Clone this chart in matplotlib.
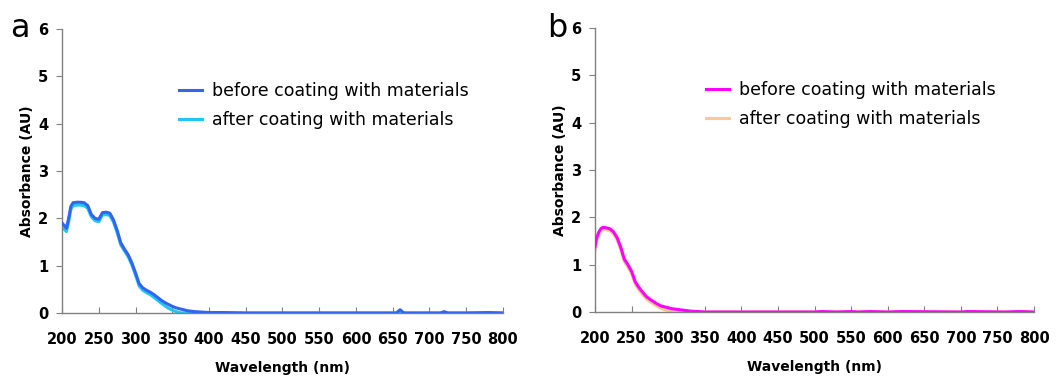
import matplotlib
matplotlib.use("Agg")
import matplotlib.pyplot as plt

# Panel a: absorbance spectra
wl_a = [200, 203, 206, 209, 212, 215, 220, 225, 230, 235, 240, 245, 250, 255, 260, 265,
        270, 275, 280, 285, 290, 295, 300, 305, 310, 315, 320, 325, 330, 335, 340, 345,
        350, 355, 360, 365, 370, 380, 390, 400, 420, 450, 500, 550, 600, 650, 655, 660,
        665, 670, 700, 715, 720, 725, 750, 780, 800]
before_a = [1.90, 1.85, 1.79, 2.00, 2.25, 2.33, 2.34, 2.34, 2.33, 2.27, 2.08, 2.00, 1.98, 2.12, 2.13, 2.11,
            1.97, 1.75, 1.48, 1.35, 1.23, 1.06, 0.85, 0.62, 0.53, 0.48, 0.44, 0.39, 0.33, 0.27, 0.22, 0.18,
            0.14, 0.11, 0.09, 0.07, 0.05, 0.03, 0.02, 0.01, 0.01, 0.00, 0.00, 0.00, 0.00, 0.00, 0.00, 0.07,
            0.00, 0.00, 0.00, 0.00, 0.03, 0.00, 0.00, 0.01, 0.00]
after_a = [1.82, 1.77, 1.72, 1.92, 2.19, 2.27, 2.28, 2.28, 2.27, 2.21, 2.03, 1.95, 1.93, 2.07, 2.08, 2.06,
           1.92, 1.70, 1.44, 1.31, 1.19, 1.02, 0.80, 0.57, 0.48, 0.43, 0.39, 0.33, 0.27, 0.21, 0.15, 0.10,
           0.06, 0.03, 0.01, 0.00, 0.00, 0.00, 0.00, 0.00, 0.00, 0.00, 0.00, 0.00, 0.00, 0.00, 0.00, 0.00,
           0.00, 0.00, 0.00, 0.00, 0.00, 0.00, 0.00, 0.00, 0.00]

# Panel b
wl_b = [200, 202, 205, 208, 211, 215, 220, 225, 230, 235, 240, 245, 250, 255, 260, 265,
        270, 275, 280, 285, 290, 295, 300, 305, 310, 320, 330, 340, 350, 400, 500, 510,
        530, 550, 560, 575, 600, 620, 700, 710, 760, 780, 800]
before_b = [1.38, 1.55, 1.68, 1.76, 1.79, 1.78, 1.76, 1.70, 1.58, 1.38, 1.12, 1.00, 0.86, 0.64, 0.52, 0.42,
            0.33, 0.27, 0.22, 0.17, 0.13, 0.11, 0.09, 0.07, 0.06, 0.04, 0.02, 0.01, 0.00, 0.00, 0.00, 0.01,
            0.00, 0.01, 0.00, 0.01, 0.00, 0.01, 0.00, 0.01, 0.00, 0.01, 0.00]
after_b = [1.30, 1.48, 1.62, 1.71, 1.74, 1.74, 1.72, 1.66, 1.53, 1.33, 1.07, 0.95, 0.81, 0.59, 0.47, 0.37,
           0.28, 0.22, 0.17, 0.12, 0.08, 0.05, 0.03, 0.01, 0.00, 0.00, 0.00, 0.00, 0.00, 0.00, 0.00, 0.00,
           0.00, 0.00, 0.00, 0.00, 0.00, 0.00, 0.00, 0.00, 0.00, 0.00, 0.00]

x_ticks = list(range(200, 801, 50))
y_ticks = [0, 1, 2, 3, 4, 5, 6]
labels = ["before coating with materials", "after coating with materials"]

fig = plt.figure(figsize=(10.6, 3.8), dpi=100)
axes_pos = [[0.0585, 0.1763, 0.416, 0.7474], [0.5613, 0.1789, 0.4142, 0.7474]]
panels = [
    ("a", wl_a, before_a, after_a, "#3264f0", "#1ec8f5", 0.266, -0.095),
    ("b", wl_b, before_b, after_b, "#ff00ff", "#fcc898", 0.254, -0.087),
]

for pos, (tag, wl, before, after, c1, c2, lx, tx) in zip(axes_pos, panels):
    ax = fig.add_axes(pos)
    ax.plot(wl, after, color=c2, lw=2.2, label=labels[1], zorder=2)
    ax.plot(wl, before, color=c1, lw=2.2, label=labels[0], zorder=3)
    handles, labs = ax.get_legend_handles_labels()
    ax.legend(handles[::-1], labs[::-1], loc="upper left", bbox_to_anchor=(lx, 0.812),
              frameon=False, fontsize=12.5, handlelength=1.32, handletextpad=0.57,
              labelspacing=0.6, borderpad=0, borderaxespad=0)
    ax.set_xlim(200, 800)
    ax.set_ylim(0, 6)
    ax.set_xticks(x_ticks)
    ax.set_yticks(y_ticks)
    ax.spines["top"].set_visible(False)
    ax.spines["right"].set_visible(False)
    for s in ["left", "bottom"]:
        ax.spines[s].set_color("#808080")
        ax.spines[s].set_linewidth(1.0)
    ax.tick_params(axis="x", direction="in", length=4, color="#808080", pad=14)
    ax.tick_params(axis="y", direction="out", length=4, color="#808080", pad=6)
    for t in ax.get_xticklabels() + ax.get_yticklabels():
        t.set_fontweight("bold")
        t.set_fontsize(10.5)
    ax.set_xlabel("Wavelength (nm)", fontweight="bold", fontsize=10, labelpad=10)
    ax.set_ylabel("Absorbance (AU)", fontweight="bold", fontsize=10, labelpad=3)
    ax.text(tx, 1.0, tag, transform=ax.transAxes, fontsize=23, va="center", ha="center")

fig.savefig("out.png", dpi=100)
